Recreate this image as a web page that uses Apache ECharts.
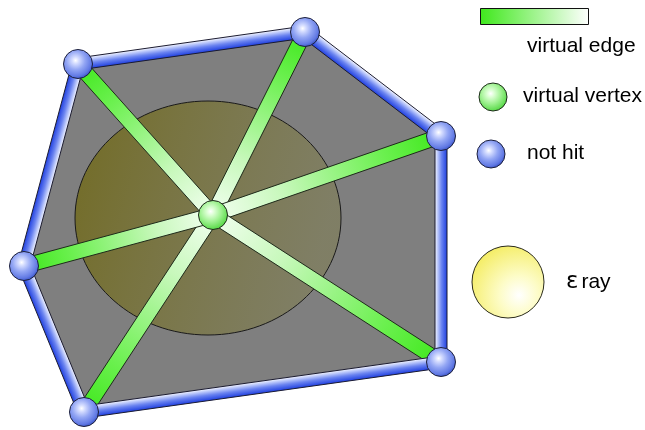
<!DOCTYPE html>
<html>
<head>
<meta charset="utf-8">
<script src="https://cdn.jsdelivr.net/npm/echarts@6/dist/echarts.min.js"></script>
<style>
  html, body { margin: 0; padding: 0; background: #fff; }
  #main { width: 645px; height: 430px; }
</style>
</head>
<body>
<div id="main"></div>
<script>
// outer polygon (pixel-like units, y grows downward)
const vertexX = [78, 305, 441, 441, 84, 24];
const vertexY = [64, 32, 136, 362, 412, 266];
// the virtual vertex in the middle
const hubX = [213];
const hubY = [215];
// epsilon ray footprint (ellipse)
const rayCenter = [208, 218];
const rayRadius = [133, 117];
// legend labels
const keyLabels = ['virtual edge', 'virtual vertex', 'not hit', 'ray'];

const chart = echarts.init(document.getElementById('main'));
const G = echarts.graphic;
const FONT = '21px "Liberation Sans", Arial, sans-serif';

function blueBall() {
  return new G.RadialGradient(0.42, 0.38, 0.62, [
    { offset: 0, color: '#ffffff' },
    { offset: 0.18, color: '#d4dcff' },
    { offset: 0.5, color: '#93a6f4' },
    { offset: 0.85, color: '#6179e4' },
    { offset: 1, color: '#3d56c8' }
  ]);
}
function greenBall() {
  return new G.RadialGradient(0.42, 0.38, 0.62, [
    { offset: 0, color: '#ffffff' },
    { offset: 0.2, color: '#dcffd4' },
    { offset: 0.55, color: '#a2f294' },
    { offset: 1, color: '#55d845' }
  ]);
}

// edges of the polygon
const rimData = vertexX.map((x, i) => {
  const j = (i + 1) % vertexX.length;
  return [x, vertexY[i], vertexX[j], vertexY[j]];
});
const spokeData = vertexX.map((x, i) => [x, vertexY[i]]);

function band(a, b, w) {
  const dx = b[0] - a[0], dy = b[1] - a[1];
  const len = Math.sqrt(dx * dx + dy * dy);
  const nx = -dy / len * w / 2, ny = dx / len * w / 2;
  return [[a[0] + nx, a[1] + ny], [b[0] + nx, b[1] + ny], [b[0] - nx, b[1] - ny], [a[0] - nx, a[1] - ny]];
}

chart.setOption({
  animation: false,
  grid: { left: 0, top: 0, width: 645, height: 430 },
  xAxis: { type: 'value', min: 0, max: 645, show: false },
  yAxis: { type: 'value', min: 0, max: 430, inverse: true, show: false },
  series: [
    {
      // gray face
      type: 'custom',
      data: [[0]],
      silent: true,
      z: 1,
      renderItem: function (params, api) {
        const pts = vertexX.map((x, i) => api.coord([x, vertexY[i]]));
        return {
          type: 'polygon',
          shape: { points: pts },
          style: { fill: '#7f7f7f', stroke: '#222', lineWidth: 1 }
        };
      }
    },
    {
      // epsilon ray ellipse
      type: 'custom',
      data: [[rayCenter[0], rayCenter[1], rayRadius[0], rayRadius[1]]],
      silent: true,
      z: 2,
      renderItem: function (params, api) {
        const c = api.coord([api.value(0), api.value(1)]);
        const s = api.size([api.value(2), api.value(3)]);
        return {
          type: 'ellipse',
          shape: { cx: c[0], cy: c[1], rx: s[0], ry: s[1] },
          style: {
            fill: new G.LinearGradient(0, 0, 1, 0.3, [
              { offset: 0, color: 'rgba(112,104,20,0.85)' },
              { offset: 1, color: 'rgba(128,126,80,0.55)' }
            ]),
            stroke: '#1a1a1a', lineWidth: 1
          }
        };
      }
    },
    {
      // virtual edges (spokes)
      type: 'custom',
      data: spokeData,
      silent: true,
      z: 3,
      renderItem: function (params, api) {
        const p = api.coord([api.value(0), api.value(1)]);
        const h = api.coord([hubX[0], hubY[0]]);
        return {
          type: 'polygon',
          shape: { points: band(p, h, 15) },
          style: {
            fill: new G.LinearGradient(p[0], p[1], h[0], h[1], [
              { offset: 0, color: '#3fe81c' },
              { offset: 0.25, color: '#6bf04f' },
              { offset: 0.7, color: '#c8f8bc' },
              { offset: 1, color: '#f2fff0' }
            ], true),
            stroke: '#1e2a1a', lineWidth: 1
          }
        };
      }
    },
    {
      // blue polygon rims
      type: 'custom',
      data: rimData,
      silent: true,
      z: 4,
      renderItem: function (params, api) {
        const a = api.coord([api.value(0), api.value(1)]);
        const b = api.coord([api.value(2), api.value(3)]);
        const dx = b[0] - a[0], dy = b[1] - a[1];
        const len = Math.sqrt(dx * dx + dy * dy);
        // outward normal (clockwise polygon in screen space)
        const nx = dy / len, ny = -dx / len;
        const w = 12;
        const mx = (a[0] + b[0]) / 2, my = (a[1] + b[1]) / 2;
        // light side: outside when the edge faces up, else inside
        const s = ny < -0.3 ? 1 : -1;
        const lx = mx + nx * s * w / 2, ly = my + ny * s * w / 2;
        const dx2 = mx - nx * s * w / 2, dy2 = my - ny * s * w / 2;
        return {
          type: 'polygon',
          shape: { points: band(a, b, w) },
          style: {
            fill: new G.LinearGradient(lx, ly, dx2, dy2, [
              { offset: 0, color: '#f4f6ff' },
              { offset: 0.25, color: '#b5c3fa' },
              { offset: 0.55, color: '#6a83f0' },
              { offset: 1, color: '#2040e0' }
            ], true),
            stroke: '#1b1b30', lineWidth: 1
          }
        };
      }
    },
    {
      // not-hit vertices
      type: 'scatter',
      data: spokeData,
      symbol: 'circle',
      symbolSize: 29,
      silent: true,
      z: 5,
      itemStyle: { color: blueBall(), borderColor: '#1c1f3a', borderWidth: 1, opacity: 1 }
    },
    {
      // virtual vertex
      type: 'scatter',
      data: [[hubX[0], hubY[0]]],
      symbol: 'circle',
      symbolSize: 29,
      silent: true,
      z: 6,
      itemStyle: { color: greenBall(), borderColor: '#1d2a1a', borderWidth: 1, opacity: 1 }
    }
  ],
  graphic: [
    {
      type: 'rect',
      shape: { x: 480.5, y: 8.5, width: 108, height: 16 },
      style: {
        fill: new G.LinearGradient(0, 0, 1, 0, [
          { offset: 0, color: '#3fe81c' },
          { offset: 1, color: '#ffffff' }
        ]),
        stroke: '#111', lineWidth: 1
      }
    },
    {
      type: 'text', left: 527, top: 36,
      style: { text: keyLabels[0], font: FONT, fill: '#000' }
    },
    {
      type: 'circle', shape: { cx: 493, cy: 97, r: 14 },
      style: { fill: greenBall(), stroke: '#1d2a1a', lineWidth: 1 }
    },
    {
      type: 'text', left: 523, top: 86,
      style: { text: keyLabels[1], font: FONT, fill: '#000' }
    },
    {
      type: 'circle', shape: { cx: 491, cy: 154, r: 14 },
      style: { fill: blueBall(), stroke: '#1c1f3a', lineWidth: 1 }
    },
    {
      type: 'text', left: 527, top: 143,
      style: { text: keyLabels[2], font: FONT, fill: '#000' }
    },
    {
      type: 'circle', shape: { cx: 508, cy: 282, r: 36 },
      style: {
        fill: new G.RadialGradient(0.65, 0.68, 0.75, [
          { offset: 0, color: '#ffffff' },
          { offset: 0.35, color: '#fdfcc8' },
          { offset: 1, color: '#f4ec60' }
        ]),
        stroke: '#2a2a1a', lineWidth: 1
      }
    },
    {
      type: 'text', left: 566, top: 271,
      style: {
        text: '{e|ε}{r|' + keyLabels[3] + '}',
        rich: {
          e: { font: '23px "DejaVu Sans", sans-serif', fill: '#000', padding: [0, 3, 0, 0] },
          r: { font: FONT, fill: '#000' }
        }
      }
    }
  ]
});
</script>
</body>
</html>
